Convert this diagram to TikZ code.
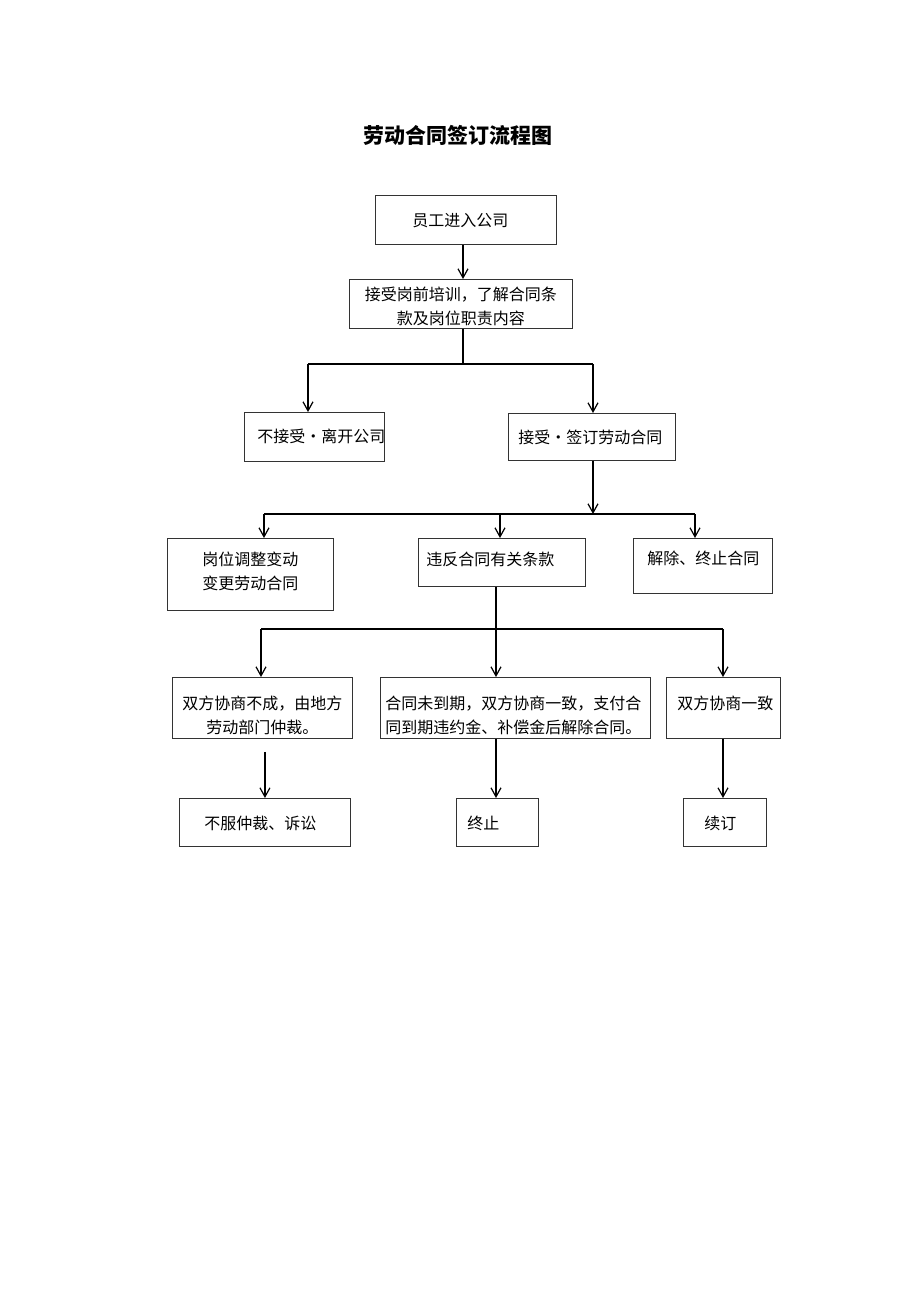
\documentclass[tikz,border=0pt]{standalone}
\usepackage{fontspec}
\usetikzlibrary{arrows.meta}
\newfontfamily\cjk{Noto Sans CJK SC}
\tikzstyle{chart} = [x = 1pt, y = -1pt]
\tikzstyle{boxStyle} = [draw=black!80, line width=.9pt, anchor=north west, inner sep=0pt, align=left, font=\cjk\fontsize{16}{24}\selectfont]
\tikzstyle{lineStyle} = [color=black, line width=1.2pt]
\tikzstyle{arrowStyle} = [lineStyle, -{Straight Barb[length=9pt, width=10pt]}]
\tikzstyle{titleText} = [anchor=base, font=\cjk\bfseries\fontsize{21}{21}\selectfont]

\begin{document}
\begin{tikzpicture}[chart]
  \fill [white] (0,0) rectangle (920,1302);
  \useasboundingbox (0,0) rectangle (920,1302);
  \node [titleText] (title) at (458,143) {劳动合同签订流程图};
  % first rows
  \node [boxStyle, minimum width=181pt, text width=107pt, text height=31pt, text depth=18pt] (b1) at (375,195) {员工进入公司};
  \node [boxStyle, align=center, minimum width=223pt, text width=223pt, text height=21pt, text depth=28pt] (b2) at (349,279) {接受岗前培训，了解合同条\\款及岗位职责内容};
  \node [boxStyle, minimum width=140pt, text width=114pt, text height=30pt, text depth=19pt] (b3) at (244,412) {不接受・离开公司};
  \node [boxStyle, minimum width=167pt, text width=147pt, text height=30pt, text depth=17pt] (b4) at (508,413) {接受・签订劳动合同};
  % after signing
  \node [boxStyle, align=center, minimum width=166pt, text width=166pt, text height=27pt, text depth=45pt] (c1) at (167,538) {岗位调整变动\\变更劳动合同};
  \node [boxStyle, minimum width=167pt, text width=151pt, text height=27pt, text depth=21pt] (c2) at (418,538) {违反合同有关条款};
  \node [boxStyle, minimum width=139pt, text width=111pt, text height=26pt, text depth=29pt] (c3) at (633,538) {解除、终止合同};
  % breach of contract
  \node [boxStyle, align=center, minimum width=180pt, text width=180pt, text height=32pt, text depth=29pt] (d1) at (172,677) {双方协商不成，由地方\\劳动部门仲裁。};
  \node [boxStyle, minimum width=270pt, text width=260pt, text height=32pt, text depth=29pt] (d2) at (380,677) {合同未到期，双方协商一致，支付合\\同到期违约金、补偿金后解除合同。};
  \node [boxStyle, minimum width=114pt, text width=92pt, text height=32pt, text depth=29pt] (d3) at (666,677) {双方协商一致};
  \node [boxStyle, minimum width=171pt, text width=121pt, text height=31pt, text depth=17pt] (e1) at (179,798) {不服仲裁、诉讼};
  \node [boxStyle, minimum width=82pt, text width=60pt, text height=31pt, text depth=17pt] (e2) at (456,798) {终止};
  \node [boxStyle, minimum width=83pt, text width=41pt, text height=31pt, text depth=17pt] (e3) at (683,798) {续订};
  % junctions
  \coordinate (j1) at (463,364);
  \coordinate (jl1) at (308,364);
  \coordinate (jr1) at (593,364);
  \coordinate (j2) at (593,514);
  \coordinate (jl2) at (264,514);
  \coordinate (jm2) at (500,514);
  \coordinate (jr2) at (695,514);
  \coordinate (j3) at (496,629);
  \coordinate (jl3) at (261,629);
  \coordinate (jr3) at (723,629);
  % connectors
  \draw [arrowStyle] (b1.south -| j1) -- (b2.north -| j1);
  \draw [lineStyle] (b2.south -| j1) -- (j1);
  \draw [lineStyle] (jl1) -- (jr1);
  \draw [arrowStyle] (jl1) -- (jl1 |- b3.north);
  \draw [arrowStyle] (jr1) -- (jr1 |- b4.north);
  \draw [arrowStyle] (b4.south -| j2) -- (j2);
  \draw [lineStyle] (jl2) -- (jr2);
  \draw [arrowStyle] (jl2) -- (jl2 |- c1.north);
  \draw [arrowStyle] (jm2) -- (jm2 |- c2.north);
  \draw [arrowStyle] (jr2) -- (jr2 |- c3.north);
  \draw [lineStyle] (c2.south -| j3) -- (j3);
  \draw [lineStyle] (jl3) -- (jr3);
  \draw [arrowStyle] (jl3) -- (jl3 |- d1.north);
  \draw [arrowStyle] (j3) -- (j3 |- d2.north);
  \draw [arrowStyle] (jr3) -- (jr3 |- d3.north);
  \draw [arrowStyle] (d1.south -| e1.north) ++(0,13) -- (e1.north);
  \draw [arrowStyle] (d2.south -| j3) -- (e2.north -| j3);
  \draw [arrowStyle] (d3.south -| jr3) -- (e3.north -| jr3);
\end{tikzpicture}
\end{document}
